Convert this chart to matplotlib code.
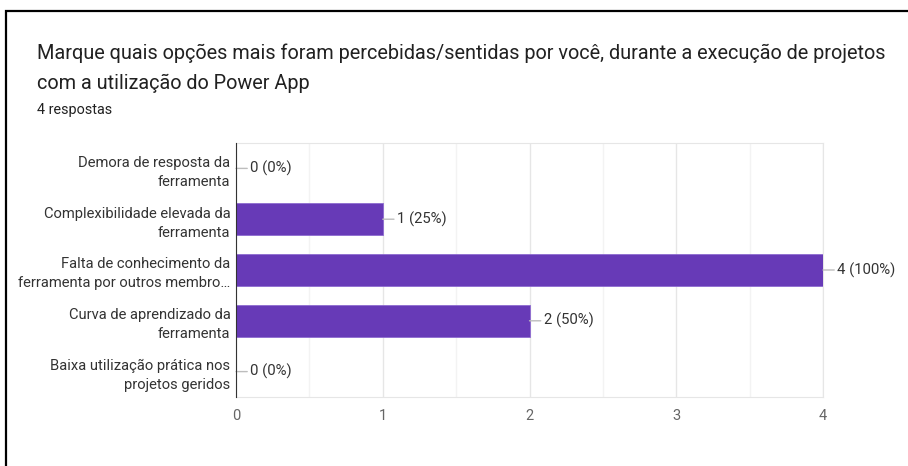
import matplotlib.pyplot as plt
from matplotlib.patches import Rectangle

plt.rcParams['font.family'] = ['Roboto', 'DejaVu Sans']

# Dados do gráfico
categorias = [
    "Demora de resposta da\nferramenta",
    "Complexibilidade elevada da\nferramenta",
    "Falta de conhecimento da\nferramenta por outros membro…",
    "Curva de aprendizado da\nferramenta",
    "Baixa utilização prática nos\nprojetos geridos",
]
respostas = [0, 1, 4, 2, 0]
percentuais = [0, 25, 100, 50, 0]
xticks = [0, 1, 2, 3, 4]

titulo_l1 = "Marque quais opções mais foram percebidas/sentidas por você, durante a execução de projetos"
titulo_l2 = "com a utilização do Power App"
subtitulo = "4 respostas"

fig = plt.figure(figsize=(9.08, 4.66), dpi=100)
ax = fig.add_axes([236 / 908, 1 - 397 / 466, 587 / 908, 254 / 466])

# moldura preta da página
fig.patches.append(Rectangle((6 / 908, -0.1), 1.0, 1 - 10.5 / 466 + 0.1, transform=fig.transFigure,
                             fill=False, edgecolor='black', linewidth=1.6, clip_on=False))

pos = list(range(len(categorias)))
ax.barh(pos, respostas, height=0.62, color='#673ab7', edgecolor='#8e6bd0', linewidth=0.6, zorder=3)

for i, (v, p) in enumerate(zip(respostas, percentuais)):
    ax.annotate(f"{v} ({p}%)", xy=(v, i), xytext=(14, 0), textcoords='offset pixels',
                va='center', ha='left', fontsize=10.7, color='#333333', zorder=4,
                arrowprops=dict(arrowstyle='-', color='#bdbdbd', lw=1, shrinkA=0, shrinkB=0))

ax.set_xlim(0, 4)
ax.set_ylim(len(categorias) - 0.5, -0.5)
ax.set_yticks(pos)
ax.set_yticklabels(categorias, fontsize=10.6, color='#333333', linespacing=1.45)
ax.set_xticks(xticks)
ax.set_xticks([0.5, 1.5, 2.5, 3.5], minor=True)
ax.tick_params(axis='x', which='both', length=0, labelsize=10.5, labelcolor='#666666', pad=9)
ax.tick_params(axis='y', length=0, pad=4)
ax.grid(axis='x', which='major', color='#e6e6e6', linewidth=1, zorder=0)
ax.grid(axis='x', which='minor', color='#f3f3f3', linewidth=1, zorder=0)

for s in ['right', 'bottom', 'top']:
    ax.spines[s].set_color('#e6e6e6')
ax.spines['left'].set_color('#333333')
ax.spines['left'].set_zorder(5)

fig.text(37 / 908, 1 - 53 / 466, titulo_l1, fontsize=14.3, color='#212121', va='center', ha='left')
fig.text(37 / 908, 1 - 83 / 466, titulo_l2, fontsize=14.3, color='#212121', va='center', ha='left')
fig.text(37 / 908, 1 - 110 / 466, subtitulo, fontsize=10.4, color='#212121', va='center', ha='left')

fig.savefig('out.png', dpi=100)
